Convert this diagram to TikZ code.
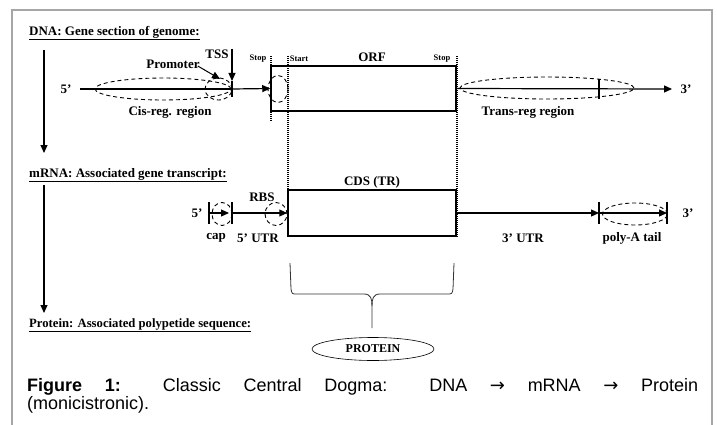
\documentclass[tikz,border=0pt]{standalone}
\usepackage{fontspec}
\setmainfont{Liberation Serif}
\newfontfamily\figfont{Liberation Sans}
\newfontfamily\arrowfont{DejaVu Sans}
\usetikzlibrary{arrows.meta,shapes.geometric}

\begin{document}
\begin{tikzpicture}[x=1pt,y=-1pt,
	lbl/.style={font=\fontsize{13}{15}\selectfont\bfseries, inner sep=0pt},
	smalllbl/.style={font=\fontsize{8.5}{10}\selectfont\bfseries, inner sep=0pt},
	strand/.style={line width=1.2pt},
	headarrow/.style={-{Triangle[length=8pt,width=7pt]}},
	ring/.style={ellipse, draw, dash pattern=on 4pt off 3pt, line width=0.9pt, inner sep=0pt},
	boxed/.style={rectangle, draw, line width=1.5pt, inner sep=0pt},
	guide/.style={line width=1.2pt, dash pattern=on 1pt off 1pt}]
			\useasboundingbox (0,0) rectangle (717,425);
			\draw[black!35, line width=1.5pt] (12,425) -- (12,10) -- (712,10) -- (712,425);
			% titles and flow
			\node[lbl, anchor=west](dnatitle) at (29,33){\underline{DNA: Gene section of genome:}};
			\node[lbl, anchor=west](mrnatitle) at (29,175){\underline{mRNA: Associated gene transcript:}};
			\node[lbl, font=\fontsize{12.7}{15}\selectfont\bfseries, anchor=west](prottitle) at (29,325){\underline{Protein: Associated polypetide sequence:}};
			\coordinate (flow1a) at (44,50);
			\coordinate (flow1b) at (44,153);
			\coordinate (flow2a) at (44,185);
			\coordinate (flow2b) at (44,313);
			\draw[strand, headarrow] (flow1a) -- (flow1b);
			\draw[strand, headarrow] (flow2a) -- (flow2b);
			% DNA
			\node[lbl](dna5) at (66,89){5'};
			\coordinate (dnastart) at (80,89);
			\node[ring, minimum width=136pt, minimum height=22pt](cisreg) at (163,89){};
			\node[ring, minimum width=27pt, minimum height=22pt](prom) at (218.5,89){};
			\node[lbl](cislbl) at (170,112){Cis-reg. region};
			\coordinate (tss) at (232,89);
			\coordinate (tsstop) at (232,81);
			\coordinate (tssbot) at (232,97);
			\coordinate (tssfrom) at (232,49);
			\node[lbl](tsslbl) at (217,54){TSS};
			\node[lbl](promlbl) at (173,64){Promoter};
			\coordinate (promtip) at (220,79);
			\node[boxed, minimum width=185pt, minimum height=45pt](orf) at (363.5,88.5){};
			\node[lbl](orflbl) at (372,57){ORF};
			\node[ring, minimum width=20pt, minimum height=27pt](stopring) at (278,89){};
			\node[smalllbl](stop1) at (258,59){Stop};
			\node[smalllbl](start1) at (299,59){Start};
			\node[smalllbl](stop2) at (442,59){Stop};
			\draw[guide] (271,56) -- (271,122);
			\draw[guide] (288,56) -- (288,190);
			\draw[guide] (457,56) -- (457,237);
			\draw[strand] (dnastart) -- (tss);
			\draw[strand] (tsstop) -- (tssbot);
			\draw[strand, headarrow] (tssfrom) -- (tsstop);
			\draw[line width=1pt, headarrow] (promlbl.east) ++(-2,2) -- (promtip);
			\draw[strand, headarrow] (tss) -- (orf.west);
			\node[ring, minimum width=174pt, minimum height=22pt](transreg) at (547,88){};
			\draw[strand] (599,79) -- (599,99);
			\coordinate (dnaend) at (672,89);
			\draw[strand, headarrow] (orf.east) -- (dnaend);
			\node[lbl](dna3) at (686,89){3'};
			\node[lbl](translbl) at (528,112){Trans-reg region};
			% mRNA
			\node[lbl](rna5) at (197,213){5'};
			\node[boxed, minimum width=168pt, minimum height=46pt](cds) at (372,213){};
			\node[lbl](cdslbl) at (372,182){CDS (TR)};
			\node[ring, minimum width=20pt, minimum height=23pt](capring) at (222,214){};
			\node[ring, minimum width=22pt, minimum height=23pt](rbsring) at (276,214){};
			\node[ring, minimum width=65pt, minimum height=22pt](polyring) at (635,214){};
			\coordinate (bar1) at (209,213);
			\coordinate (bar2) at (232,213);
			\coordinate (bar3) at (599,213);
			\coordinate (bar4) at (667,213);
			\foreach \b in {bar1,bar2,bar3,bar4}
				\draw[strand] (\b) ++(0,-11) -- ++(0,22);
			\draw[strand, headarrow] (bar1) -- (229,213);
			\draw[strand, headarrow] (bar2) -- (cds.west);
			\draw[strand, headarrow] (cds.east) -- (bar3);
			\draw[strand, headarrow] (bar3) -- (bar4);
			\node[lbl](rbslbl) at (262,197){RBS};
			\node[lbl](caplbl) at (216,238){cap};
			\node[lbl](utr5) at (258,238){5' UTR};
			\node[lbl](utr3) at (523,238){3' UTR};
			\node[lbl](polylbl) at (632,238){poly-A tail};
			\node[lbl](rna3) at (688,213){3'};
			% protein
			\draw[line width=0.8pt, black!80] (290,263) -- (291,289) .. controls (292,294) .. (297,294) -- (364,294) .. controls (371,294) and (372,299) .. (372,306) -- (372,328);
			\draw[line width=0.8pt, black!80] (454,263) -- (453,289) .. controls (452,294) .. (447,294) -- (380,294) .. controls (373,294) and (372,299) .. (372,306);
			\node[ellipse, draw, line width=0.6pt, minimum width=122pt, minimum height=23pt, inner sep=0pt, font=\fontsize{12}{14}\selectfont\bfseries](protein) at (373,349){PROTEIN};
			\node[anchor=north west, inner sep=0pt, text width=671pt, align=justify, font=\figfont\fontsize{18}{18}\selectfont](caption) at (27,378){\textbf{Figure 1:} Classic Central Dogma: DNA {\arrowfont →} mRNA {\arrowfont →} Protein\linebreak (monicistronic).};
\end{tikzpicture}
\end{document}
